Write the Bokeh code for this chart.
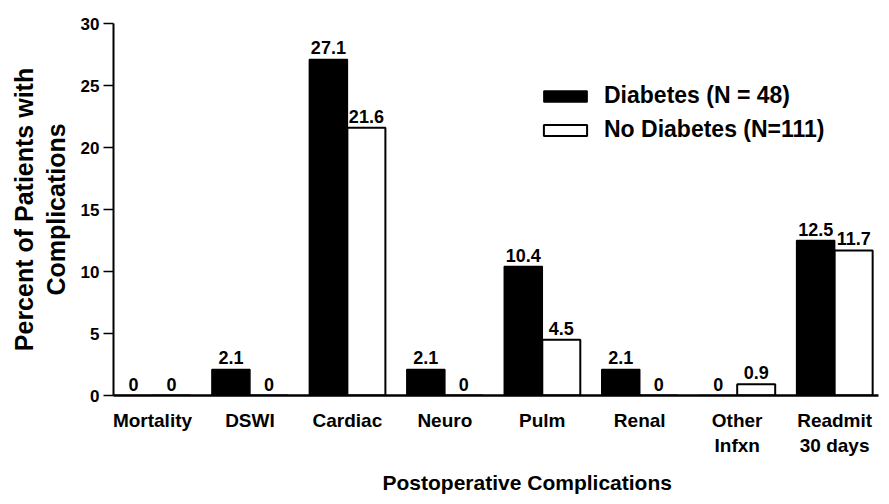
from bokeh.plotting import figure
from bokeh.models import ColumnDataSource, Range1d, FixedTicker, Legend, LegendItem, Title
from bokeh.transform import dodge
from bokeh.core.properties import value
from bokeh.embed import file_html
from bokeh.resources import INLINE

categories = ["Mortality", "DSWI", "Cardiac", "Neuro", "Pulm", "Renal", "Other\nInfxn", "Readmit\n30 days"]
diabetes = [0, 2.1, 27.1, 2.1, 10.4, 2.1, 0, 12.5]
no_diabetes = [0, 0, 21.6, 0, 4.5, 0, 0.9, 11.7]
y_ticks = [0, 5, 10, 15, 20, 25, 30]
series_names = ["Diabetes (N = 48)", "No Diabetes (N=111)"]

FONT = value("Liberation Sans")

xs = list(range(len(categories)))
src = ColumnDataSource(dict(
    x=xs,
    d=diabetes,
    n=no_diabetes,
    dl=[f"{v:g}" for v in diabetes],
    nl=[f"{v:g}" for v in no_diabetes],
))

p = figure(width=889, height=504, output_backend="svg", toolbar_location=None,
           x_range=Range1d(-0.4, 7.45), y_range=Range1d(0, 30),
           min_border_left=113, min_border_right=11, min_border_top=23, min_border_bottom=109)
p.outline_line_color = None
p.xgrid.visible = False
p.ygrid.visible = False
p.background_fill_color = "white"
p.border_fill_color = "white"

bw = 0.39
r1 = p.vbar(x=dodge("x", -bw / 2), top="d", width=bw, source=src,
            fill_color="black", line_color="black", line_width=1.5)
r2 = p.vbar(x=dodge("x", bw / 2), top="n", width=bw, source=src,
            fill_color="white", line_color="black", line_width=2)

for col, lab, off in (("d", "dl", -bw / 2), ("n", "nl", bw / 2)):
    p.text(x=dodge("x", off), y=col, text=lab, source=src, y_offset=-5,
           text_align="center", text_baseline="bottom", text_font=FONT,
           text_font_style="bold", text_font_size="18px", text_color="black")

# x axis
p.xaxis.ticker = FixedTicker(ticks=xs)
p.xaxis.major_label_overrides = {i: c for i, c in enumerate(categories)}
p.xaxis.major_tick_line_color = None
p.xaxis.minor_tick_line_color = None
p.xaxis.axis_line_width = 2.5
p.xaxis.axis_line_color = "black"
p.xaxis.major_label_standoff = 8
p.xaxis.major_label_text_font = "Liberation Sans"
p.xaxis.major_label_text_font_style = "bold"
p.xaxis.major_label_text_font_size = "19px"
p.xaxis.major_label_text_color = "black"

p.add_layout(Title(text="Postoperative Complications", align="left", offset=269,
                   text_font="Liberation Sans", text_font_style="bold",
                   text_font_size="21px", text_color="black", standoff=20), "below")

# y axis
p.yaxis.ticker = FixedTicker(ticks=y_ticks)
p.yaxis.minor_tick_line_color = None
p.yaxis.axis_line_width = 2
p.yaxis.axis_line_color = "black"
p.yaxis.major_tick_line_width = 1.5
p.yaxis.major_tick_line_color = "black"
p.yaxis.major_tick_out = 10
p.yaxis.major_tick_in = 0
p.yaxis.major_label_standoff = 4
p.yaxis.major_label_text_font = "Liberation Sans"
p.yaxis.major_label_text_font_style = "bold"
p.yaxis.major_label_text_font_size = "17px"
p.yaxis.major_label_text_color = "black"
p.yaxis.axis_label = "Complications"
p.yaxis.axis_label_text_font = "Liberation Sans"
p.yaxis.axis_label_text_font_style = "bold"
p.yaxis.axis_label_text_font_size = "25px"
p.yaxis.axis_label_text_color = "black"
p.yaxis.axis_label_standoff = 8

p.add_layout(Title(text="Percent of Patients with", align="center",
                   text_font="Liberation Sans", text_font_style="bold",
                   text_font_size="25px", text_color="black", standoff=2), "left")

legend = Legend(items=[LegendItem(label=series_names[0], renderers=[r1]),
                       LegendItem(label=series_names[1], renderers=[r2])],
                location=(425, 252), orientation="vertical",
                glyph_width=54, glyph_height=14, label_standoff=12,
                padding=0, margin=0, spacing=7, label_height=20,
                label_text_font="Liberation Sans", label_text_font_style="bold",
                label_text_font_size="23px", label_text_color="black",
                border_line_color=None, background_fill_alpha=0)
p.add_layout(legend)

open("out.html", "w").write(file_html(p, INLINE))
